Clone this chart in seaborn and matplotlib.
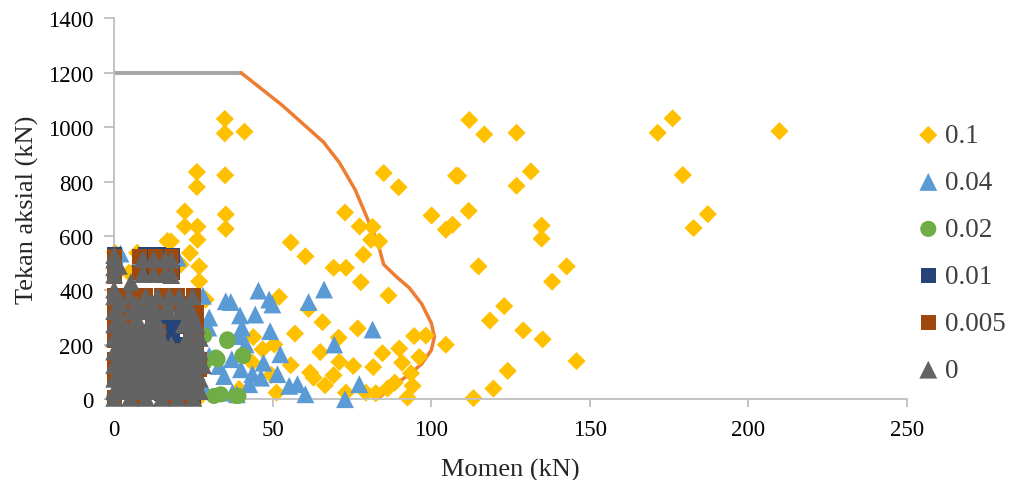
import matplotlib
matplotlib.use("Agg")
import matplotlib.pyplot as plt
import seaborn as sns
import pandas as pd

# ---- data: moment (kN) vs axial compression (kN) per ratio ----
labels = ["0.1", "0.04", "0.02", "0.01", "0.005", "0"]

m_01 = [34.9, 34.9, 41.1, 26.1, 26.1, 35.0, 35.2, 35.2, 22.3, 22.3, 26.3, 26.3, 16.8, 23.9, 7.3, 0.3,
        72.8, 77.4, 81.5, 85.0, 89.7, 100.1, 104.6, 106.7, 107.8, 55.7, 60.3, 69.2, 73.1, 78.6, 81.0, 83.6,
        77.8, 86.5, 26.8, 26.8, 28.9, 52.0, 61.3, 65.7, 57.0, 76.8, 43.9, 46.8, 50.5, 70.8, 65.0, 71.0,
        75.4, 81.7, 84.6, 89.9, 94.6, 98.3, 104.6, 90.8, 96.2, 93.6, 94.1, 92.5, 88.5, 86.2, 82.5, 79.4,
        66.5, 69.2, 61.8, 62.9, 55.7, 51.2, 49.6, 43.6, 39.4, 73.1, 4.7, 21.0, 17.9, 26.8,
        112.0, 116.7, 126.9, 171.4, 176.1, 108.5, 131.4, 126.9, 179.3, 111.8, 134.8, 134.8, 187.2, 182.7,
        114.9, 142.7, 138.1, 123.0, 118.5, 129.0, 135.1, 145.8, 124.1, 119.6, 113.3, 209.8]
p_01 = [1030, 977, 983, 835, 780, 823, 679, 626, 690, 635, 634, 586, 581, 537, 538, 538,
        686, 635, 633, 831, 779, 675, 623, 641, 821, 576, 525, 483, 483, 531, 586, 580,
        430, 381, 488, 433, 366, 376, 332, 283, 241, 260, 228, 183, 201, 226, 173, 137,
        122, 118, 169, 186, 232, 234, 200, 134, 155, 95, 49, 6, 61, 39, 22, 24,
        51, 88, 98, 79, 125, 24, 89, 134, 37, 24, 465, 495, 580, 5,
        1026, 973, 979, 979, 1032, 821, 837, 784, 824, 692, 638, 590, 680, 629,
        488, 488, 432, 342, 289, 253, 220, 140, 104, 39, 4, 985]

m_004 = [45.5, 35.2, 36.8, 48.9, 49.9, 61.3, 66.2, 39.7, 44.5, 40.3, 49.2, 29.7, 39.7, 41.5, 52.4, 47.1,
         37.1, 69.4, 81.5, 51.5, 43.6, 46.3, 40.0, 55.2, 57.8, 60.3, 77.3, 72.8, 38.7, 33.1, 34.7, 37.3,
         42.6, 2.0, 8.0, 20.0, 28.0, 30.0, 30.0, 28.0]
p_004 = [399, 360, 357, 366, 348, 357, 403, 308, 311, 263, 250, 263, 232, 201, 165, 134,
         147, 201, 256, 92, 92, 79, 110, 49, 55, 18, 55, 0, 18, 122, 85, 24,
         55, 535, 520, 520, 380, 300, 160, 50]

m_002 = [27.3, 35.7, 32.1, 40.7, 39.2, 33.6, 24.2, 18.4, 24.2, 28.4, 35.7, 40.5, 32.6, 28.4, 38.4, 31.5,
         5.0, 10.0, 15.0, 20.0, 25.0, 12.0, 3.0, 0.0]
p_002 = [238, 220, 153, 159, 12, 18, 3, 263, 293, 134, 214, 161, 147, 234, 12, 12,
         300, 200, 100, 50, 180, 350, 60, 5]

m_001 = [18.9, 16.8, 17.5, 16.3, 20.5, 18.4, 0.0, 0.0, 10.0, 14.0, 18.5, 10.0, 14.0, 18.5,
         5.0, 12.0, 22.0, 8.0, 15.0, 25.0]
p_001 = [269, 226, 245, 293, 269, 232, 530, 480, 530, 530, 528, 470, 470, 466,
         380, 300, 200, 100, 20, 10]

m_0005 = [0.0, 0.0, 0.0, 8.0, 13.0, 18.0, 8.0, 13.0, 18.0,
          0.0, 5.0, 10.0, 15.0, 20.0, 25.0,
          0.0, 6.0, 12.0, 18.0, 24.0,
          0.0, 5.0, 10.0, 15.0, 22.0, 26.0,
          0.0, 6.0, 12.0, 26.0,
          0.0, 8.0, 14.0, 24.0,
          0.0, 6.0, 12.0, 26.0,
          3.0, 10.0, 18.0, 26.0,
          0.0, 7.0, 14.0, 21.0, 27.0,
          0.0, 6.0, 14.0, 22.0, 27.0,
          0.0, 6.0, 12.0, 18.0, 24.0,
          2.0, 10.0, 18.0, 26.0,
          0.0, 8.0, 16.0, 24.0]
p_0005 = [525, 490, 450, 525, 525, 525, 465, 465, 465,
          380, 380, 380, 380, 380, 380,
          350, 350, 350, 350, 350,
          320, 320, 320, 320, 320, 320,
          285, 285, 285, 285,
          250, 250, 250, 250,
          215, 215, 215, 215,
          180, 180, 180, 180,
          145, 145, 145, 145, 145,
          110, 110, 110, 110, 110,
          75, 75, 75, 75, 75,
          40, 40, 40, 40,
          5, 5, 5, 5]

m_0 = [0.0, 0.0, 0.0, 0.0, 1.5, 0.0,
       9.0, 12.5, 16.0, 18.0, 9.0, 12.5, 16.0, 18.0, 5.3,
       0.0, 4.7, 10.0, 13.7, 17.4, 20.5, 24.7,
       2.0, 7.0, 12.0, 17.0, 22.0,
       0.0, 5.7, 9.5, 13.2, 16.7, 20.5, 24.3,
       2.0, 7.0, 12.0, 25.0,
       0.0, 3.0, 7.0, 11.0, 14.0, 22.0, 26.0,
       2.0, 6.0, 10.0, 13.0, 24.0,
       0.0, 4.0, 8.0, 12.0, 15.0, 23.0, 27.0,
       2.0, 6.0, 10.0, 14.0, 18.0, 22.0, 26.0,
       0.0, 4.0, 8.0, 12.0, 16.0, 20.0, 24.0, 27.0,
       2.0, 6.0, 10.0, 14.0, 18.0, 22.0, 26.0,
       0.0, 4.0, 8.0, 12.0, 16.0, 20.0, 24.0, 28.0,
       2.0, 6.0, 10.0, 14.0, 18.0, 22.0, 26.0,
       0.0, 4.0, 8.0, 12.0, 16.0, 20.0, 24.0, 27.0,
       2.0, 6.0, 10.0, 14.0, 18.0, 22.0, 26.0,
       0.0, 4.0, 8.0, 12.0, 16.0, 20.0, 24.0, 27.0,
       0.0, 5.0, 10.0, 15.0, 20.0, 25.0]
p_0 = [530, 513, 458, 403, 490, 485,
       515, 515, 515, 512, 460, 460, 460, 456, 430,
       378, 378, 378, 378, 378, 378, 378,
       350, 350, 350, 350, 350,
       324, 324, 324, 324, 324, 324, 324,
       300, 300, 300, 300,
       275, 275, 275, 275, 275, 275, 275,
       250, 250, 250, 250, 250,
       225, 225, 225, 225, 225, 225, 225,
       200, 200, 200, 200, 200, 200, 200,
       175, 175, 175, 175, 175, 175, 175, 175,
       150, 150, 150, 150, 150, 150, 150,
       125, 125, 125, 125, 125, 125, 125, 125,
       100, 100, 100, 100, 100, 100, 100,
       75, 75, 75, 75, 75, 75, 75, 75,
       50, 50, 50, 50, 50, 50, 50,
       30, 30, 30, 30, 30, 30, 30, 30,
       5, 5, 5, 5, 5, 5]

# interaction diagram
curve_m = [40, 53, 66, 71, 76, 80, 83, 85, 89, 93, 97, 100, 101, 100, 97, 93, 88, 83]
curve_p = [1200, 1080, 945, 870, 770, 660, 580, 495, 450, 410, 350, 280, 230, 180, 130, 90, 50, 0]
cap_m = [0, 40]
cap_p = [1200, 1200]

series = [
    (m_01, p_01, "#FFC000", "D", 85),
    (m_004, p_004, "#5B9BD5", "^", 165),
    (m_002, p_002, "#70AD47", "o", 135),
    (m_001, p_001, "#264478", "s", 120),
    (m_0005, p_0005, "#9E480E", "s", 120),
    (m_0, p_0, "#636363", "^", 165),
]

sns.set_theme(style="white")
plt.rcParams["font.family"] = ["Liberation Serif", "DejaVu Serif"]

fig = plt.figure(figsize=(10.1, 4.81), dpi=100)
ax = fig.add_axes([0.113, 0.168, 0.785, 0.792])

sns.lineplot(x=cap_m, y=cap_p, ax=ax, color="#A5A5A5", linewidth=2.8, sort=False,
             estimator=None, legend=False, zorder=1)
sns.lineplot(x=curve_m, y=curve_p, ax=ax, color="#ED7D31", linewidth=2.5, sort=False,
             estimator=None, legend=False, zorder=1)

for i, (mx, py, col, mk, sz) in enumerate(series):
    df = pd.DataFrame({"Momen": mx, "Tekan": py})
    sns.scatterplot(data=df, x="Momen", y="Tekan", ax=ax, color=col, marker=mk, s=sz,
                    linewidth=0, edgecolor="none", label=labels[i], clip_on=False,
                    zorder=2 + i)

ax.set_xlim(0, 250)
ax.set_ylim(0, 1400)
ax.set_xticks([0, 50, 100, 150, 200, 250])
ax.set_yticks(range(0, 1401, 200))

for side in ["top", "right"]:
    ax.spines[side].set_visible(False)
for side in ["left", "bottom"]:
    ax.spines[side].set_color("#BFBFBF")
    ax.spines[side].set_linewidth(1.3)

ax.tick_params(axis="y", direction="out", length=7, width=1.3, color="#BFBFBF",
               left=True, labelsize=16.5, pad=8, labelcolor="#000000")
ax.tick_params(axis="x", direction="out", length=6, width=1.3, color="#BFBFBF",
               bottom=True, labelsize=16.5, pad=8, labelcolor="#000000")

ax.set_xlabel("Momen (kN)", fontsize=19, labelpad=13)
ax.set_ylabel("Tekan aksial (kN)", fontsize=19, labelpad=6)

leg = ax.legend(loc="upper left", bbox_to_anchor=(0.903, 0.742), bbox_transform=fig.transFigure,
                frameon=False, fontsize=19.5, handletextpad=0.0, labelspacing=0.81,
                handlelength=1.2, borderaxespad=0, borderpad=0)
for t in leg.get_texts():
    t.set_color("#404040")

fig.savefig("out.png", dpi=100)
